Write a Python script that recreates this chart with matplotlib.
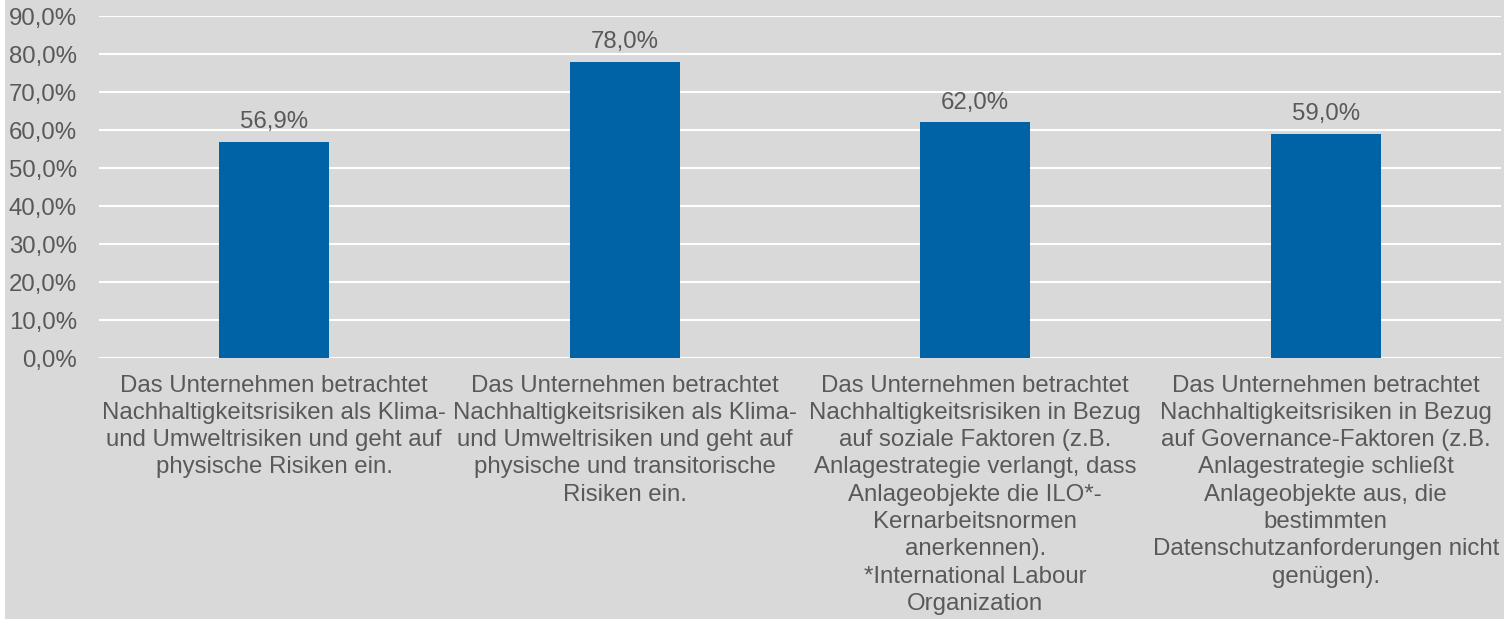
import matplotlib.pyplot as plt
from matplotlib.patches import Rectangle

plt.rcParams['font.family'] = ['Liberation Sans', 'DejaVu Sans']

categories = [
    "Das Unternehmen betrachtet\nNachhaltigkeitsrisiken als Klima-\nund Umweltrisiken und geht auf\nphysische Risiken ein.",
    "Das Unternehmen betrachtet\nNachhaltigkeitsrisiken als Klima-\nund Umweltrisiken und geht auf\nphysische und transitorische\nRisiken ein.",
    "Das Unternehmen betrachtet\nNachhaltigkeitsrisiken in Bezug\nauf soziale Faktoren (z.B.\nAnlagestrategie verlangt, dass\nAnlageobjekte die ILO*-\nKernarbeitsnormen\nanerkennen).\n*International Labour\nOrganization",
    "Das Unternehmen betrachtet\nNachhaltigkeitsrisiken in Bezug\nauf Governance-Faktoren (z.B.\nAnlagestrategie schließt\nAnlageobjekte aus, die\nbestimmten\nDatenschutzanforderungen nicht\ngenügen).",
]
values = [56.9, 78.0, 62.0, 59.0]
yticks = [0, 10, 20, 30, 40, 50, 60, 70, 80, 90]

bg = '#d9d9d9'
txt = '#595959'
blue = '#0063a6'
fs = 17.3

fig = plt.figure(figsize=(15.04, 6.19), dpi=100, facecolor='white')
fig.patches.append(Rectangle((5 / 1504, 0), 1, 1, transform=fig.transFigure,
                             facecolor=bg, edgecolor='none', zorder=-1))
ax = fig.add_axes([99 / 1504, 1 - 358 / 619, 1402 / 1504, (358 - 16) / 619])
ax.set_facecolor(bg)

x = list(range(len(values)))
bars = ax.bar(x, values, width=0.315, color=blue, zorder=3)
for xi, v in zip(x, values):
    ax.annotate(f"{v:.1f}%".replace('.', ','), (xi, v), xytext=(0, 6),
                textcoords='offset points', ha='center', va='bottom',
                fontsize=fs, color=txt)

ax.set_xlim(-0.5, len(values) - 0.5)
ax.set_ylim(0, 90)
ax.set_yticks(yticks)
ax.set_yticklabels([f"{t:.1f}%".replace('.', ',') for t in yticks],
                   fontsize=fs, color=txt)
ax.set_xticks(x)
ax.set_xticklabels(categories, fontsize=fs, color=txt, linespacing=1.31,
                   ha='center', va='top')
ax.tick_params(axis='both', length=0)
ax.tick_params(axis='y', pad=16)
ax.tick_params(axis='x', pad=12)
ax.grid(axis='y', color='white', linewidth=1.5, zorder=0)
for s in ax.spines.values():
    s.set_visible(False)

fig.savefig('out.png', dpi=100, facecolor=fig.get_facecolor())
